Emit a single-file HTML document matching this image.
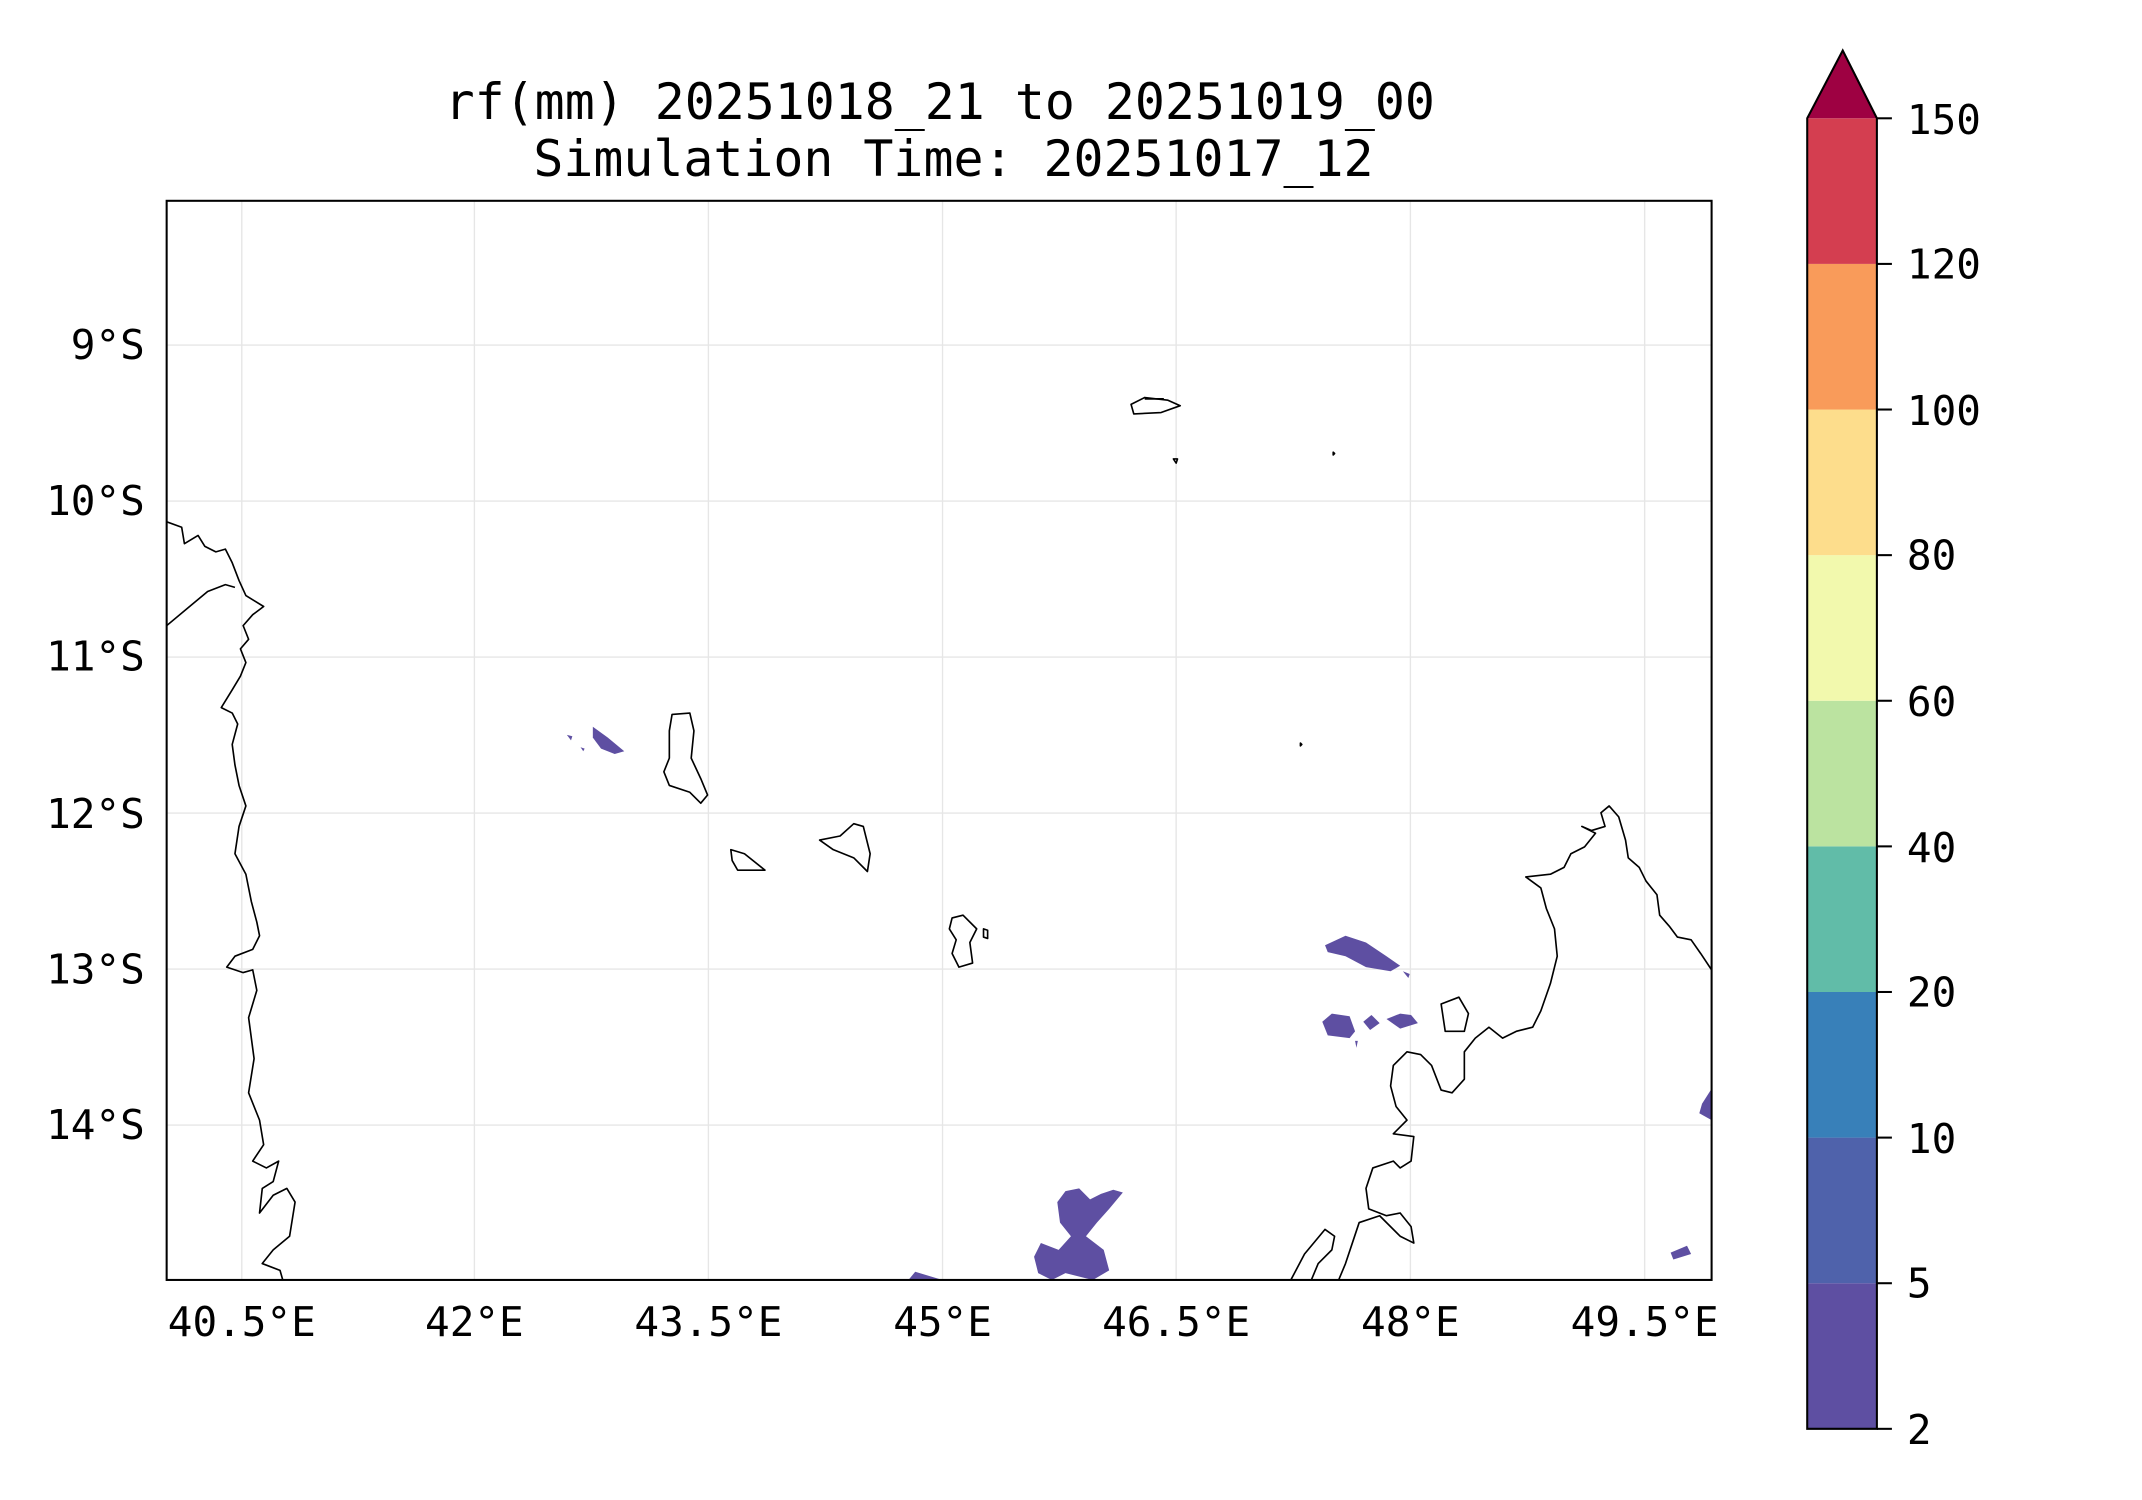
<!DOCTYPE html>
<html><head><meta charset="utf-8"><style>
html,body{margin:0;padding:0;background:#fff;}
svg{display:block;}
text{font-family:"DejaVu Sans Mono","Liberation Mono",monospace;fill:#000;}
</style></head><body>
<svg width="2142" height="1500" viewBox="0 0 2142 1500" xmlns="http://www.w3.org/2000/svg">
<g transform="scale(1.366)">
<defs><clipPath id="ax"><rect x="122" y="147" width="1131" height="790"/></clipPath></defs>
<text x="688" y="87" font-size="36.5" text-anchor="middle">rf(mm) 20251018_21 to 20251019_00</text>
<text x="698" y="129" font-size="36.5" text-anchor="middle">Simulation Time: 20251017_12</text>
<g stroke="#e6e6e6" stroke-width="1">
<line x1="177" y1="147" x2="177" y2="937"/><line x1="347.3" y1="147" x2="347.3" y2="937"/>
<line x1="518.6" y1="147" x2="518.6" y2="937"/><line x1="690" y1="147" x2="690" y2="937"/>
<line x1="861" y1="147" x2="861" y2="937"/><line x1="1032.5" y1="147" x2="1032.5" y2="937"/>
<line x1="1204" y1="147" x2="1204" y2="937"/>
<line x1="122" y1="252.6" x2="1253" y2="252.6"/><line x1="122" y1="366.8" x2="1253" y2="366.8"/>
<line x1="122" y1="481" x2="1253" y2="481"/><line x1="122" y1="595.2" x2="1253" y2="595.2"/>
<line x1="122" y1="709.4" x2="1253" y2="709.4"/><line x1="122" y1="823.6" x2="1253" y2="823.6"/>
</g>
<g clip-path="url(#ax)" fill="#5e4fa2">
<polygon points="434,532 445,540 457,550 450,552 440,548 434,540"/>
<polygon points="415,538 419,539 418,542"/><polygon points="425,547 428,548 427,550"/>
<polygon points="970,692 985,685 1000,690 1015,700 1025,707 1018,711 1000,708 985,700 972,697"/>
<polygon points="1027,711 1032,713 1031,716"/>
<polygon points="968,748 975,742 988,744 992,755 988,760 972,758"/>
<polygon points="992,762 994,762 993,767"/>
<polygon points="998,748 1004,743 1010,749 1003,754"/>
<polygon points="1015,746 1025,742 1033,743 1038,749 1025,753"/>
<polygon points="774,880 780,872 790,870 798,878 806,874 815,871 822,873 812,885 803,895 795,905 808,915 812,930 800,937 780,932 770,937 760,932 757,920 762,910 775,915 784,905 776,895"/>
<polygon points="665,937 670,931 690,937"/>
<polygon points="1253,797 1246,808 1244,815 1253,820"/>
<polygon points="1223,917 1235,912 1238,918 1225,922"/>
</g>
<g clip-path="url(#ax)" fill="none" stroke="#000" stroke-width="1.2" stroke-linejoin="round">
<polyline points="122,382 133,386 135,398 140,395 145,392 150,400 158,404 165,402 170,412 175,425 180,436 193,444 185,450 178,458 182,468 176,475 180,485 176,495 170,505 162,518 170,522 174,530 170,545 172,560 175,575 180,590 175,605 172,625 180,640 184,660 188,675 190,685 185,695 172,700 166,708 178,712 185,710 188,725 182,745 186,775 182,800 190,820 193,838 185,850 195,855 204,850 200,865 192,870 190,888 200,875 210,870 216,880 212,905 200,915 192,925 205,930 207,937"/>
<polyline points="122,458 140,443 152,433 165,428 172,430"/>
<polygon points="492,523 505,522 508,535 506,555 513,570 518,582 513,588 505,580 490,575 486,565 490,555 490,535"/>
<polygon points="535,622 545,625 560,637 540,637 536,630"/>
<polygon points="600,615 615,612 625,603 632,605 637,625 635,638 625,628 610,622"/>
<polygon points="697,672 705,670 715,680 710,690 712,705 702,708 697,698 700,688 695,680"/>
<polygon points="720,680 723,681 723,687 720,686"/>
<polygon points="828,296 838,291 855,293 864,297 850,302 830,303"/>
<polyline points="838,292 852,292"/>
<polygon points="859,336 862,336 861,339"/><polygon points="976,331 977,332 976,333"/><polygon points="952,544 953,545 952,546"/>
<polyline points="1253,710 1245,698 1238,688 1228,686 1222,678 1215,670 1213,655 1205,645 1200,635 1192,628 1190,615 1185,598 1178,590 1172,595 1175,605 1165,608 1158,605 1168,610 1160,620 1150,625 1145,635 1135,640 1117,642 1128,650 1132,665 1138,680 1140,700 1135,720 1128,740 1122,752 1110,755 1100,760 1090,752 1080,760 1072,770 1072,790 1063,800 1055,798 1048,780 1040,772 1030,770 1020,780 1018,795 1022,810 1030,820 1020,830 1035,832 1033,850 1025,855 1020,850 1005,855 1000,870 1002,885 1015,890 1025,888 1033,898 1035,910 1025,905 1010,890 995,895 990,910 985,925 980,937"/>
<polygon points="1055,735 1068,730 1075,742 1072,755 1058,755"/>
<polyline points="945,937 955,918 970,900 977,905 975,915 965,925 960,937"/>
</g>
<rect x="122" y="147" width="1131" height="790" fill="none" stroke="#000" stroke-width="1.5"/>
<g font-size="30" text-anchor="middle">
<text x="177" y="978">40.5°E</text><text x="347.3" y="978">42°E</text><text x="518.6" y="978">43.5°E</text>
<text x="690" y="978">45°E</text><text x="861" y="978">46.5°E</text><text x="1032.5" y="978">48°E</text><text x="1204" y="978">49.5°E</text>
</g>
<g font-size="30" text-anchor="end">
<text x="106" y="263">9°S</text><text x="106" y="377">10°S</text><text x="106" y="491">11°S</text>
<text x="106" y="606">12°S</text><text x="106" y="720">13°S</text><text x="106" y="834">14°S</text>
</g>
<g>
<rect x="1323" y="939.4" width="51" height="106.6" fill="#5e4fa2"/>
<rect x="1323" y="832.8" width="51" height="106.6" fill="#4f62ab"/>
<rect x="1323" y="726.2" width="51" height="106.6" fill="#3880b9"/>
<rect x="1323" y="619.6" width="51" height="106.6" fill="#61bca8"/>
<rect x="1323" y="513" width="51" height="106.6" fill="#bbe3a0"/>
<rect x="1323" y="406.4" width="51" height="106.6" fill="#f2f9ad"/>
<rect x="1323" y="299.8" width="51" height="106.6" fill="#fddd8c"/>
<rect x="1323" y="193.2" width="51" height="106.6" fill="#f99b5a"/>
<rect x="1323" y="86.6" width="51" height="106.6" fill="#d43e50"/>
<polygon points="1323,86.6 1349,37 1374,86.6" fill="#9e0142"/>
<polygon points="1323,1046 1323,86.6 1349,37 1374,86.6 1374,1046" fill="none" stroke="#000" stroke-width="1.5"/>
</g>
<g stroke="#000" stroke-width="1.5">
<line x1="1374" y1="1046" x2="1385" y2="1046"/><line x1="1374" y1="939.4" x2="1385" y2="939.4"/>
<line x1="1374" y1="832.8" x2="1385" y2="832.8"/><line x1="1374" y1="726.2" x2="1385" y2="726.2"/>
<line x1="1374" y1="619.6" x2="1385" y2="619.6"/><line x1="1374" y1="513" x2="1385" y2="513"/>
<line x1="1374" y1="406.4" x2="1385" y2="406.4"/><line x1="1374" y1="299.8" x2="1385" y2="299.8"/>
<line x1="1374" y1="193.2" x2="1385" y2="193.2"/><line x1="1374" y1="86.6" x2="1385" y2="86.6"/>
</g>
<g font-size="30">
<text x="1396" y="1057">2</text><text x="1396" y="950">5</text><text x="1396" y="844">10</text>
<text x="1396" y="737">20</text><text x="1396" y="631">40</text><text x="1396" y="524">60</text>
<text x="1396" y="417">80</text><text x="1396" y="311">100</text><text x="1396" y="204">120</text>
<text x="1396" y="98">150</text>
</g>
</g>
</svg>
</body></html>
